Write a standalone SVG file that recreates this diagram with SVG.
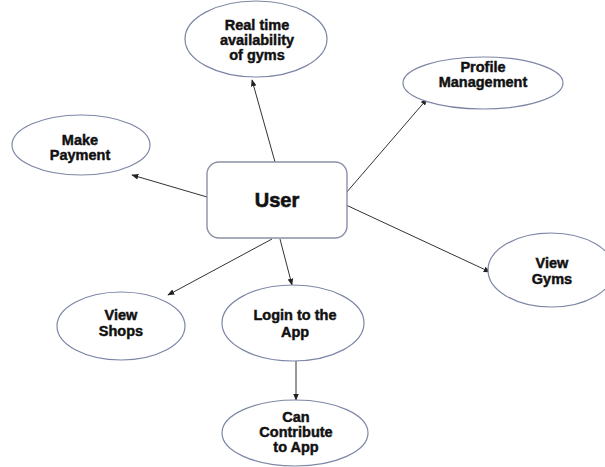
<svg xmlns="http://www.w3.org/2000/svg" width="605" height="467" viewBox="0 0 605 467">
  <style>
    .bg { fill: #ffffff; }
    .oval { fill: #ffffff; stroke: #7d86a6; stroke-width: 1.2; }
    .box { fill: #ffffff; stroke: #8a90a6; stroke-width: 1.4; }
    .lbl { font-family: "Liberation Sans", Arial, sans-serif; font-weight: bold; font-size: 14.5px; fill: #111111; stroke: #111111; stroke-width: 0.45; text-anchor: middle; }
    .big { font-size: 20px; stroke-width: 0.6; }
    .edge { stroke: #333333; stroke-width: 1; fill: none; marker-end: url(#arrow); }
  </style>
  <defs>
    <marker id="arrow" viewBox="0 0 10 10" refX="9" refY="5" markerWidth="7" markerHeight="7" orient="auto" markerUnits="userSpaceOnUse">
      <path d="M0,1 L10,5 L0,9 Z" fill="#222222"/>
    </marker>
  </defs>
  <rect class="bg" x="0" y="0" width="605" height="467"/>

  <!-- arrows from the central User box -->
  <g id="connectors">
    <line class="edge" x1="275" y1="162" x2="252" y2="80"/>
    <line class="edge" x1="207" y1="197" x2="132" y2="175"/>
    <line class="edge" x1="346" y1="193" x2="427" y2="99"/>
    <line class="edge" x1="346" y1="205" x2="490" y2="272"/>
    <line class="edge" x1="272" y1="239" x2="168" y2="295"/>
    <line class="edge" x1="280" y1="239" x2="292" y2="285"/>
    <line class="edge" x1="296" y1="361" x2="296" y2="400"/>
  </g>

  <g id="user">
    <rect class="box" x="207" y="162" width="140" height="76" rx="12" ry="12"/>
    <text class="lbl big" x="277" y="207">User</text>
  </g>

  <g id="realtime">
    <ellipse class="oval" cx="256" cy="39" rx="71" ry="38"/>
    <text class="lbl" x="257" y="30">Real time</text>
    <text class="lbl" x="257" y="45">availability</text>
    <text class="lbl" x="257" y="60">of gyms</text>
  </g>

  <g id="payment">
    <ellipse class="oval" cx="81" cy="145" rx="69" ry="30"/>
    <text class="lbl" x="80" y="145">Make</text>
    <text class="lbl" x="80" y="160">Payment</text>
  </g>

  <g id="profile">
    <ellipse class="oval" cx="483" cy="83" rx="80" ry="26"/>
    <text class="lbl" x="483" y="72">Profile</text>
    <text class="lbl" x="483" y="87">Management</text>
  </g>

  <g id="viewgyms">
    <ellipse class="oval" cx="551" cy="270" rx="63" ry="37"/>
    <text class="lbl" x="552" y="268">View</text>
    <text class="lbl" x="552" y="284">Gyms</text>
  </g>

  <g id="viewshops">
    <ellipse class="oval" cx="121" cy="326" rx="64" ry="34"/>
    <text class="lbl" x="121" y="320">View</text>
    <text class="lbl" x="121" y="336">Shops</text>
  </g>

  <g id="login">
    <ellipse class="oval" cx="293" cy="323" rx="71" ry="38"/>
    <text class="lbl" x="295" y="320">Login to the</text>
    <text class="lbl" x="295" y="337">App</text>
  </g>

  <g id="contribute">
    <ellipse class="oval" cx="295" cy="433" rx="73" ry="33"/>
    <text class="lbl" x="296" y="422">Can</text>
    <text class="lbl" x="296" y="437">Contribute</text>
    <text class="lbl" x="296" y="452">to App</text>
  </g>
</svg>
